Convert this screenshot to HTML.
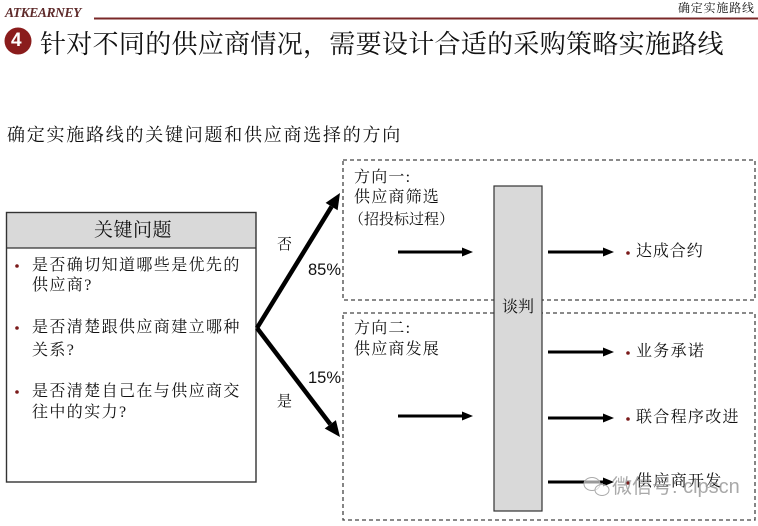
<!DOCTYPE html>
<html><head><meta charset="utf-8">
<style>
html,body{margin:0;padding:0;background:#fff;}
body{width:758px;height:526px;position:relative;overflow:hidden;font-family:"Liberation Serif","Noto Serif CJK SC",serif;color:#111;}
.t{position:absolute;white-space:nowrap;}
svg{position:absolute;left:0;top:0;}
</style></head><body>
<svg width="758" height="526" viewBox="0 0 758 526">
  <!-- header line -->
  <line x1="94" y1="18.5" x2="758" y2="18.5" stroke="#7a2828" stroke-width="2"/>
  <!-- number circle -->
  <circle cx="18" cy="41" r="13.5" fill="#8a1c1c"/>
  <!-- key question box -->
  <rect x="6.5" y="212.5" width="249.5" height="35.5" fill="#d9d9d9"/>
  <rect x="6.5" y="212.5" width="249.5" height="269.5" fill="none" stroke="#333" stroke-width="1.4"/>
  <line x1="6.5" y1="248" x2="256" y2="248" stroke="#333" stroke-width="1.2"/>
  <!-- bullets -->
  <circle cx="17" cy="266" r="1.8" fill="#7a1a1a"/>
  <circle cx="17" cy="328" r="1.8" fill="#7a1a1a"/>
  <circle cx="17" cy="392" r="1.8" fill="#7a1a1a"/>
  <!-- dashed boxes -->
  <rect x="343" y="160" width="412" height="140" fill="none" stroke="#444" stroke-width="1.3" stroke-dasharray="4 3"/>
  <rect x="343" y="313" width="412" height="207" fill="none" stroke="#444" stroke-width="1.3" stroke-dasharray="4 3"/>
  <!-- negotiation bar -->
  <rect x="494" y="186" width="48" height="325" fill="#d9d9d9" stroke="#333" stroke-width="1.2"/>
  <!-- diagonal arrows -->
  <line x1="257" y1="328" x2="331.6" y2="206.6" stroke="#000" stroke-width="4.5"/>
  <polygon points="340,193 337.6,210.3 325.6,202.9" fill="#000"/>
  <line x1="257" y1="328" x2="330.3" y2="424.3" stroke="#000" stroke-width="4.5"/>
  <polygon points="340,437 335.9,420.1 324.7,428.5" fill="#000"/>
  <!-- horizontal arrows -->
  <g fill="#000" stroke="#000">
    <line x1="398" y1="252" x2="463" y2="252" stroke-width="3"/>
    <polygon points="462,247.5 473,252 462,256.5" stroke="none"/>
    <line x1="548" y1="252" x2="604" y2="252" stroke-width="3"/>
    <polygon points="603,247.5 614,252 603,256.5" stroke="none"/>
    <line x1="398" y1="416" x2="463" y2="416" stroke-width="3"/>
    <polygon points="462,411.5 473,416 462,420.5" stroke="none"/>
    <line x1="548" y1="352" x2="604" y2="352" stroke-width="3"/>
    <polygon points="603,347.5 614,352 603,356.5" stroke="none"/>
    <line x1="548" y1="418" x2="604" y2="418" stroke-width="3"/>
    <polygon points="603,413.5 614,418 603,422.5" stroke="none"/>
    <line x1="548" y1="482" x2="604" y2="482" stroke-width="3"/>
    <polygon points="603,477.5 614,482 603,486.5" stroke="none"/>
  </g>
  <!-- result bullets -->
  <circle cx="628" cy="253" r="1.8" fill="#7a1a1a"/>
  <circle cx="628" cy="353" r="1.8" fill="#7a1a1a"/>
  <circle cx="628" cy="419" r="1.8" fill="#7a1a1a"/>
  <circle cx="628" cy="483" r="1.8" fill="#7a1a1a"/>
  <!-- watermark icon -->
  <g fill="rgba(255,255,255,0.6)" stroke="#aaa" stroke-width="1">
    <ellipse cx="592" cy="484" rx="8" ry="6.5"/>
    <ellipse cx="602" cy="490" rx="7" ry="5.5"/>
  </g>
</svg>

<div class="t" style="left:5px;top:5px;font-family:'Liberation Serif',serif;font-style:italic;font-weight:bold;font-size:13.5px;line-height:16px;color:#5e2a2a;letter-spacing:-0.4px;">ATKEARNEY</div>
<div class="t" style="left:678px;top:1px;font-size:12px;line-height:14px;letter-spacing:0.8px;">确定实施路线</div>
<div class="t" style="left:11px;top:29px;font-family:'Liberation Sans',sans-serif;font-weight:bold;font-size:19px;line-height:24px;color:#fff;">4</div>
<div class="t" style="left:40px;top:30px;font-size:26px;line-height:30px;letter-spacing:0.3px;">针对不同的供应商情况，需要设计合适的采购策略实施路线</div>
<div class="t" style="left:7px;top:125px;font-size:18px;line-height:20px;letter-spacing:1.75px;">确定实施路线的关键问题和供应商选择的方向</div>

<div class="t" style="left:94px;top:220px;font-size:19px;line-height:22px;letter-spacing:0.5px;">关键问题</div>
<div class="t" style="left:32px;top:256px;font-size:16px;line-height:20px;letter-spacing:1.4px;">是否确切知道哪些是优先的</div>
<div class="t" style="left:32px;top:276px;font-size:16px;line-height:20px;letter-spacing:1.4px;">供应商?</div>
<div class="t" style="left:32px;top:318px;font-size:16px;line-height:20px;letter-spacing:1.4px;">是否清楚跟供应商建立哪种</div>
<div class="t" style="left:32px;top:341px;font-size:16px;line-height:20px;letter-spacing:1.4px;">关系?</div>
<div class="t" style="left:32px;top:382px;font-size:16px;line-height:20px;letter-spacing:1.4px;">是否清楚自己在与供应商交</div>
<div class="t" style="left:32px;top:403px;font-size:16px;line-height:20px;letter-spacing:1.4px;">往中的实力?</div>

<div class="t" style="left:277px;top:235px;font-size:15px;line-height:20px;">否</div>
<div class="t" style="left:308px;top:260px;font-family:'Liberation Sans',sans-serif;font-size:16.5px;line-height:20px;">85%</div>
<div class="t" style="left:308px;top:368px;font-family:'Liberation Sans',sans-serif;font-size:16.5px;line-height:20px;">15%</div>
<div class="t" style="left:277px;top:392px;font-size:15px;line-height:20px;">是</div>

<div class="t" style="left:354px;top:168px;font-size:16px;line-height:20px;letter-spacing:1.2px;">方向一:</div>
<div class="t" style="left:354px;top:188px;font-size:16px;line-height:20px;letter-spacing:1.2px;">供应商筛选</div>
<div class="t" style="left:349px;top:210px;font-size:15px;line-height:20px;letter-spacing:0px;">（招投标过程）</div>
<div class="t" style="left:354px;top:319px;font-size:16px;line-height:20px;letter-spacing:1.2px;">方向二:</div>
<div class="t" style="left:354px;top:340px;font-size:16px;line-height:20px;letter-spacing:1.2px;">供应商发展</div>

<div class="t" style="left:502px;top:298px;font-size:16px;line-height:20px;">谈判</div>

<div class="t" style="left:636px;top:242px;font-size:16px;line-height:20px;letter-spacing:0.9px;">达成合约</div>
<div class="t" style="left:636px;top:342px;font-size:16px;line-height:20px;letter-spacing:1.3px;">业务承诺</div>
<div class="t" style="left:636px;top:408px;font-size:16px;line-height:20px;letter-spacing:1.3px;">联合程序改进</div>
<div class="t" style="left:636px;top:472px;font-size:16px;line-height:20px;letter-spacing:1.3px;">供应商开发</div>
<div class="t" style="left:612px;top:474px;font-family:'Liberation Sans','Noto Sans CJK SC',sans-serif;font-size:20px;line-height:26px;color:rgba(140,140,140,0.75);">微信号: clpscn</div>
</body></html>
